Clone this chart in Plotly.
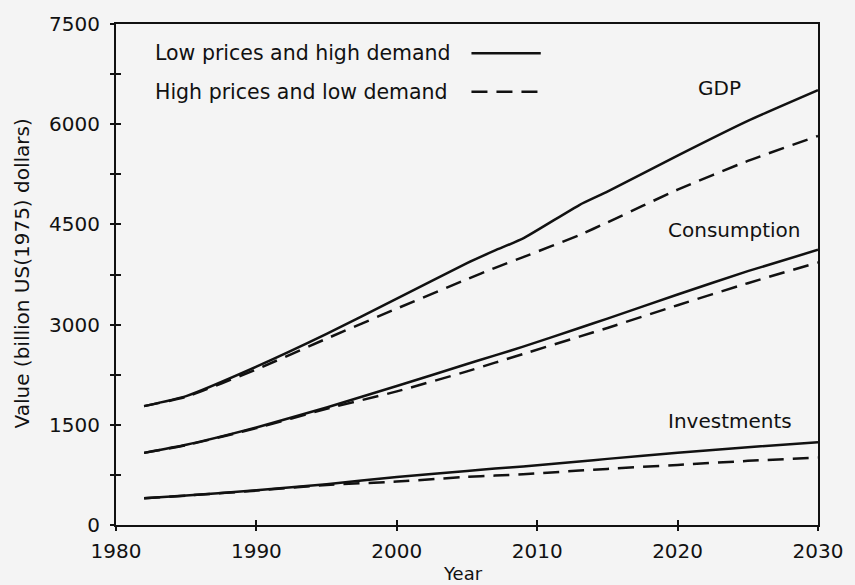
import plotly.graph_objects as go

# Projection years (first point 1982)
years = [1982, 1985, 1990, 1995, 2000, 2005, 2007, 2009, 2013, 2015, 2020, 2025, 2030]

# GDP, billion US(1975) dollars
gdp_low_price = [1780, 1930, 2370, 2860, 3390, 3920, 4110, 4290, 4790, 4990, 5530, 6050, 6510]
gdp_high_price = [1780, 1920, 2330, 2790, 3240, 3680, 3850, 4010, 4340, 4530, 5020, 5450, 5825]

# Consumption
cons_low_price = [1080, 1200, 1460, 1760, 2080, 2410, 2540, 2670, 2950, 3090, 3450, 3800, 4120]
cons_high_price = [1080, 1195, 1450, 1740, 2000, 2300, 2430, 2560, 2820, 2950, 3290, 3620, 3930]

# Investments
inv_low_price = [400, 440, 520, 610, 720, 810, 845, 875, 950, 990, 1080, 1165, 1240]
inv_high_price = [400, 440, 515, 600, 650, 720, 740, 760, 815, 840, 900, 960, 1010]

x_ticks = [1980, 1990, 2000, 2010, 2020, 2030]
y_ticks = [0, 1500, 3000, 4500, 6000, 7500]

scenario_labels = ["Low prices and high demand", "High prices and low demand"]
series_labels = ["GDP", "Consumption", "Investments"]
label_pos = [(2023.0, 6546), (2024.0, 4415), (2023.7, 1561)]

INK = "#111111"
BG = "#f4f4f4"
FONT = "DejaVu Sans, Liberation Sans, Arial, sans-serif"
LW = 2.5
DASH = "16px,9px"

fig = go.Figure()

solid_sets = [gdp_low_price, cons_low_price, inv_low_price]
dash_sets = [gdp_high_price, cons_high_price, inv_high_price]

for vals in solid_sets:
    fig.add_trace(go.Scatter(x=years, y=vals, mode="lines",
                             line=dict(color=INK, width=LW, shape="spline", smoothing=0.5),
                             showlegend=False, hoverinfo="skip"))
for vals in dash_sets:
    fig.add_trace(go.Scatter(x=years, y=vals, mode="lines",
                             line=dict(color=INK, width=LW, dash=DASH, shape="spline", smoothing=0.5),
                             showlegend=False, hoverinfo="skip"))

# Inward half of the crossing ticks, on overlaid axes
fig.add_trace(go.Scatter(x=[1980], y=[0], xaxis="x2", yaxis="y2", mode="markers",
                         marker=dict(opacity=0), showlegend=False, hoverinfo="skip"))

# Series labels
for text, (lx, ly) in zip(series_labels, label_pos):
    fig.add_annotation(x=lx, y=ly, text=text, showarrow=False, xanchor="center", yanchor="middle",
                       font=dict(family=FONT, size=20, color=INK))

# Legend (text on the left, line sample on the right)
legend_rows = [(48, None), (87, DASH)]
for text, (py, dash) in zip(scenario_labels, legend_rows):
    yp = (525.5 - py) / 507.0
    fig.add_annotation(xref="paper", yref="paper", x=(153 - 116) / 709.0, y=yp, text=text, showarrow=False,
                       xanchor="left", yanchor="middle", font=dict(family=FONT, size=20.5, color=INK))
    fig.add_shape(type="line", xref="paper", yref="paper", x0=(475 - 116) / 709.0, x1=(545 - 116) / 709.0,
                  y0=yp, y1=yp, line=dict(color=INK, width=LW, dash=dash if dash else "solid"))

# Axis titles
fig.add_annotation(xref="paper", yref="paper", x=(466 - 116) / 709.0, y=(525.5 - 562) / 507.0, text="Year",
                   showarrow=False, xanchor="center", yanchor="top", font=dict(family=FONT, size=18, color=INK))
fig.add_annotation(xref="paper", yref="paper", x=(21 - 116) / 709.0, y=(525.5 - 271) / 507.0,
                   text="Value (billion US(1975) dollars)", textangle=-90, showarrow=False,
                   xanchor="center", yanchor="middle", font=dict(family=FONT, size=20, color=INK))

axis_common = dict(showgrid=False, zeroline=False, tickcolor=INK, tickwidth=1.6)

fig.update_layout(
    width=855, height=585,
    margin=dict(l=116, r=30, t=18.5, b=59.5),
    paper_bgcolor=BG, plot_bgcolor=BG,
    font=dict(family=FONT, size=20, color=INK),
    xaxis=dict(range=[1980, 2030], tickvals=x_ticks, ticktext=[str(v) for v in x_ticks],
               ticks="outside", ticklen=4, ticklabelstandoff=3, mirror=True, showline=True,
               linecolor=INK, linewidth=2, **axis_common),
    yaxis=dict(range=[0, 7500], tickvals=y_ticks, ticktext=[str(v) for v in y_ticks],
               ticks="outside", ticklen=4, ticklabelstandoff=6, mirror=True, showline=True,
               linecolor=INK, linewidth=2,
               minor=dict(dtick=750, tick0=0, ticks="outside", ticklen=4, tickcolor=INK, tickwidth=1.6),
               **axis_common),
    xaxis2=dict(range=[1980, 2030], overlaying="x", tickvals=x_ticks, showticklabels=False,
                ticks="inside", ticklen=5, showline=False, **axis_common),
    yaxis2=dict(range=[0, 7500], overlaying="y", tickvals=[v * 750 for v in range(11)], showticklabels=False,
                ticks="inside", ticklen=5, showline=False, **axis_common),
)

fig.write_html("out.html")
